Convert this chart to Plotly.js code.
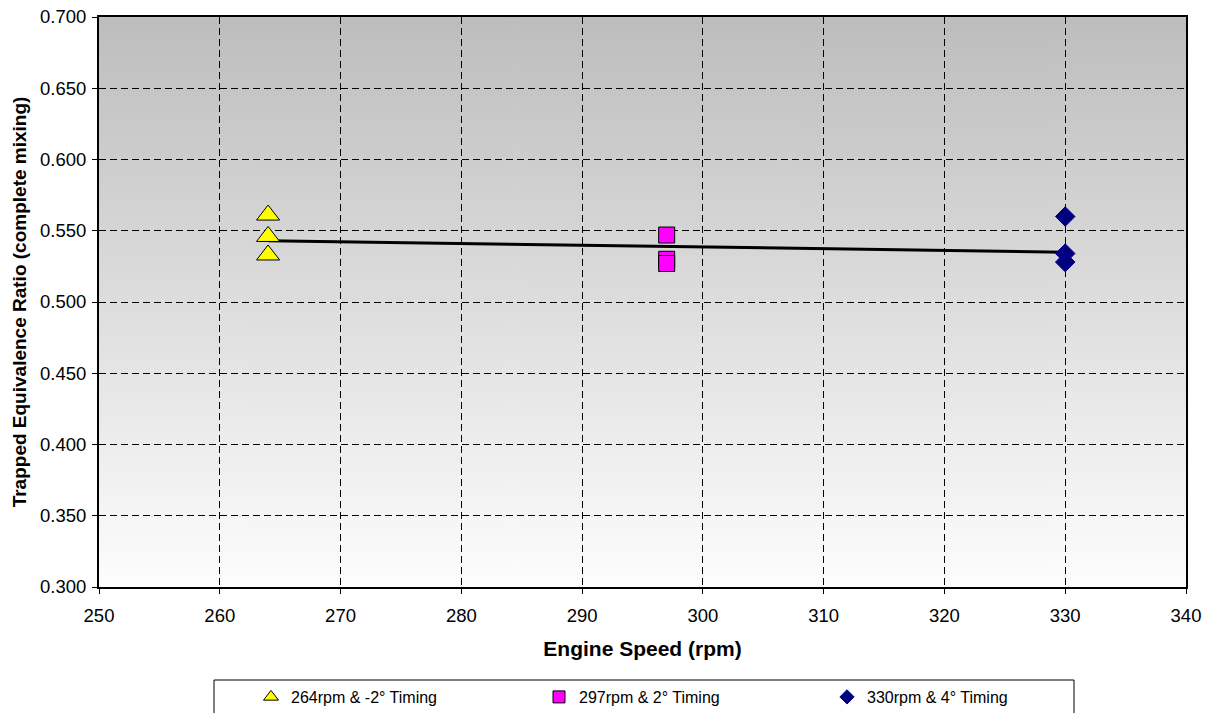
<!DOCTYPE html>
<html>
<head>
<meta charset="utf-8">
<script src="https://cdn.plot.ly/plotly-3.0.1.min.js"></script>
<style>
html,body{margin:0;padding:0;background:#fff;}
#chart{width:1213px;height:713px;}
</style>
</head>
<body>
<div id="chart"></div>
<script>
// ---- data ----
const seriesNames = ["264rpm & -2° Timing", "297rpm & 2° Timing", "330rpm & 4° Timing"];
const speed264 = [264, 264, 264];
const phi264 = [0.561, 0.546, 0.533];
const speed297 = [297, 297, 297];
const phi297 = [0.547, 0.530, 0.527];
const speed330 = [330, 330, 330];
const phi330 = [0.560, 0.534, 0.528];
const trendX = [264, 330];
const trendY = [0.543, 0.535];
const xTicks = [250, 260, 270, 280, 290, 300, 310, 320, 330, 340];
const yTicks = [0.300, 0.350, 0.400, 0.450, 0.500, 0.550, 0.600, 0.650, 0.700];

// gradient background for plot area
const cv = document.createElement('canvas');
cv.width = 4; cv.height = 570;
const ctx = cv.getContext('2d');
const g = ctx.createLinearGradient(0, 0, 0, 570);
g.addColorStop(0, '#bdbdbd');
g.addColorStop(1, '#fdfdfd');
ctx.fillStyle = g;
ctx.fillRect(0, 0, 4, 570);
const bgURL = cv.toDataURL('image/png');

const FONT = 'Liberation Sans, Arial, sans-serif';

const styles = [
  {symbol: 'triangle-up', size: 20, color: '#ffff00', line: {color: '#000000', width: 1}},
  {symbol: 'square', size: 16, color: '#ff00ff', line: {color: '#000000', width: 1}},
  {symbol: 'diamond', size: 15, color: '#000080', line: {color: '#000080', width: 1}}
];
const legendSizes = [13, 12, 11];
const xs = [speed264, speed297, speed330];
const ys = [phi264, phi297, phi330];

const traces = [{
  x: trendX, y: trendY, type: 'scatter', mode: 'lines',
  line: {color: '#000000', width: 3}, showlegend: false, hoverinfo: 'skip'
}];
for (let i = 0; i < 3; i++) {
  traces.push({
    x: xs[i], y: ys[i], type: 'scatter', mode: 'markers', name: seriesNames[i],
    marker: styles[i], showlegend: false
  });
}
// legend entries (no drawn points), smaller symbols as in the reference legend
for (let i = 0; i < 3; i++) {
  traces.push({
    x: [null], y: [null], type: 'scatter', mode: 'markers', name: seriesNames[i],
    marker: Object.assign({}, styles[i], {size: legendSizes[i]}), showlegend: true
  });
}

const axisCommon = {
  showline: true, mirror: true, linecolor: '#000000', linewidth: 2,
  ticks: 'outside', ticklen: 5, tickcolor: '#000000', tickwidth: 1,
  showgrid: true, gridcolor: '#000000', gridwidth: 1, griddash: '7px,4px',
  zeroline: false,
  tickfont: {family: FONT, size: 18.5, color: '#000000'}
};

const layout = {
  width: 1213, height: 713,
  margin: {l: 99, r: 27, t: 17, b: 126},
  paper_bgcolor: '#ffffff',
  plot_bgcolor: 'rgba(0,0,0,0)',
  font: {family: FONT, color: '#000000'},
  xaxis: Object.assign({}, axisCommon, {
    range: [250, 340], tickvals: xTicks, ticktext: xTicks.map(v => String(v)),
    ticklabelstandoff: 6,
    title: {text: 'Engine Speed (rpm)', font: {family: FONT, size: 21, color: '#000000', weight: 'bold'}, standoff: 16}
  }),
  yaxis: Object.assign({}, axisCommon, {
    range: [0.3, 0.7], tickvals: yTicks, ticktext: yTicks.map(v => v.toFixed(3)),
    ticklabelstandoff: 2,
    title: {text: 'Trapped Equivalence Ratio (complete mixing)', font: {family: FONT, size: 19, color: '#000000', weight: 'bold'}, standoff: 8}
  }),
  images: [{
    source: bgURL, xref: 'paper', yref: 'paper', x: 0, y: 1, sizex: 1, sizey: 1,
    sizing: 'stretch', layer: 'below'
  }],
  shapes: [{
    type: 'rect', xref: 'paper', yref: 'paper',
    x0: (214 - 99) / 1087, x1: (1074 - 99) / 1087,
    y0: (587 - 680) / 570, y1: (587 - 730) / 570,
    line: {color: '#000000', width: 1}, fillcolor: '#ffffff', layer: 'below'
  }],
  legend: {
    orientation: 'h', xref: 'container', yref: 'container',
    x: 251 / 1213, xanchor: 'left',
    y: (713 - 680) / 713, yanchor: 'top',
    entrywidth: 243, entrywidthmode: 'pixels', itemwidth: 30,
    bgcolor: 'rgba(0,0,0,0)', borderwidth: 0,
    font: {family: FONT, size: 16, color: '#000000'}
  },
  showlegend: true
};

Plotly.newPlot('chart', traces, layout, {displayModeBar: false, staticPlot: true});
</script>
</body>
</html>
